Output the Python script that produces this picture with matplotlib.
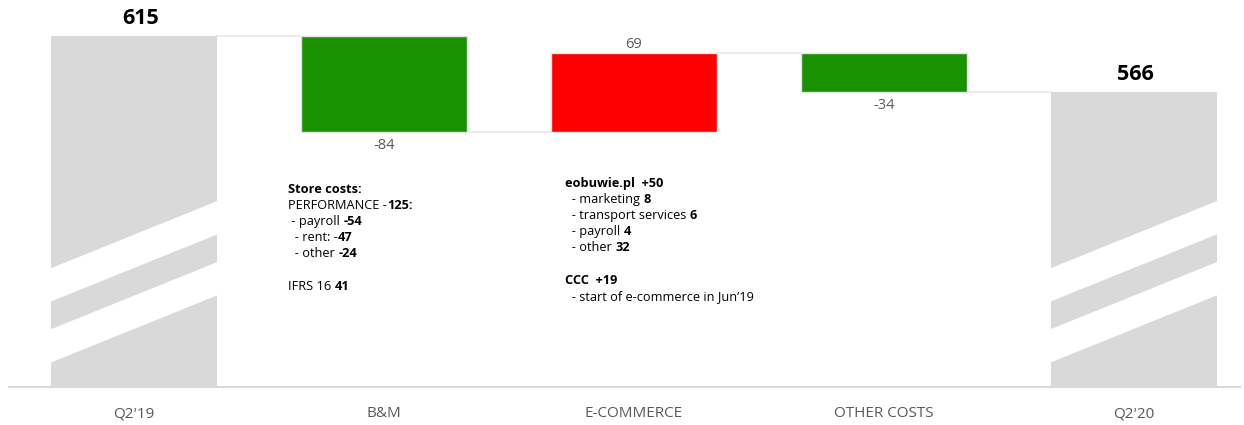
import matplotlib
matplotlib.use("Agg")
import matplotlib.pyplot as plt
from matplotlib.patches import Polygon
from matplotlib.transforms import blended_transform_factory

plt.rcParams["font.family"] = ["Open Sans", "DejaVu Sans"]

# --- data ---
categories = ["Q2'19", "B&M", "E-COMMERCE", "OTHER COSTS", "Q2'20"]
start_total = 615
changes = [-84, 69, -34]
end_total = 566

# note lines: (text, weight, gap before segment in points)
store_notes = [
    [("Store costs:", "bold", 0)],
    [("PERFORMANCE -", "normal", 0), ("125:", "bold", 0)],
    [(" - payroll", "normal", 0), ("-54", "bold", 2.6)],
    [("  - rent: -", "normal", 0), ("47", "bold", 0)],
    [("  - other", "normal", 0), ("-24", "bold", 2.6)],
    [],
    [("IFRS 16", "normal", 0), ("41", "bold", 2.6)],
]
ecom_notes = [
    [("eobuwie.pl  +50", "bold", 0)],
    [("  - marketing", "normal", 0), ("8", "bold", 2.6)],
    [("  - transport services", "normal", 0), ("6", "bold", 2.6)],
    [("  - payroll", "normal", 0), ("4", "bold", 2.6)],
    [("  - other", "normal", 0), ("32", "bold", 2.6)],
    [],
    [("CCC  +19", "bold", 0)],
    [("  - start of e-commerce in Jun\u201919", "normal", 0)],
]

# --- colours ---
GREY_BAR = "#d9d9d9"
DOWN = "#1a9100"
UP = "#ff0000"
LABEL = "#595959"
CONNECT = "#ebebeb"

W, H = 1244, 425
fig = plt.figure(figsize=(W / 100, H / 100), dpi=100)
ax = fig.add_axes([9 / W, 1 - 387 / H, 1231 / W, 387 / H])

x = list(range(len(categories)))
width = 0.665

# running levels of the waterfall
levels = [start_total]
for c in changes:
    levels.append(levels[-1] + c)

# total bars (start from zero, cut by the y-limit)
ax.bar(x[0], start_total, width=width, color=GREY_BAR, edgecolor="none")
ax.bar(x[-1], end_total, width=width, color=GREY_BAR, edgecolor="none")

# change bars
for i, c in enumerate(changes):
    lo = min(levels[i], levels[i + 1])
    ax.bar(x[i + 1], abs(c), bottom=lo, width=width,
           color=DOWN if c < 0 else UP, edgecolor="#e4e4e4", linewidth=1)

# connector lines between bars
for i in range(len(categories) - 1):
    ax.plot([x[i] + width / 2, x[i + 1] - width / 2], [levels[i], levels[i]],
            color=CONNECT, lw=1.3, zorder=0)

# axis-break bands on the total bars
trans = blended_transform_factory(ax.transData, ax.transAxes)
for xi in (x[0], x[-1]):
    xl, xr = xi - width / 2 - 0.005, xi + width / 2 + 0.005
    for lower in (0.2196, 0.062):
        band = Polygon([(xl, lower), (xr, lower + 0.176),
                        (xr, lower + 0.176 + 0.086), (xl, lower + 0.086)],
                       closed=True, facecolor="white", edgecolor="none",
                       transform=trans, zorder=3)
        ax.add_patch(band)

# value labels
ax.annotate(str(start_total), (x[0], start_total), xytext=(5, 12.5),
            textcoords="offset points", ha="center", va="center",
            fontsize=15.5, fontweight="bold", color="black")
ax.annotate(str(end_total), (x[-1], end_total), xytext=(1, 12.5),
            textcoords="offset points", ha="center", va="center",
            fontsize=15.5, fontweight="bold", color="black")
for i, c in enumerate(changes):
    if c < 0:
        y, dy = min(levels[i], levels[i + 1]), -10
    else:
        y, dy = max(levels[i], levels[i + 1]), 6.5
    ax.annotate(f"{c}", (x[i + 1], y), xytext=(0, dy),
                textcoords="offset points", ha="center", va="center",
                fontsize=10.5, color=LABEL)

ax.set_xlim(-0.5005, -0.5005 + 1231 / 249.9)
ax.set_ylim(307.9, 646.5)
ax.set_xticks(x)
ax.set_xticklabels(categories, fontsize=11, color=LABEL)
ax.tick_params(axis="x", length=0, pad=14)
ax.set_yticks([])
for side in ("top", "left", "right"):
    ax.spines[side].set_visible(False)
ax.spines["bottom"].set_color("#d9d9d9")
ax.spines["bottom"].set_linewidth(1.5)


def rich_block(px, py, lines, step=16.1, size=9.2):
    """Write lines of mixed regular/bold text starting at (px, py) pixels."""
    for n, segs in enumerate(lines):
        if not segs:
            continue
        yy = 1 - (py + n * step) / H
        last = None
        for s, wt, gap in segs:
            if last is None:
                last = fig.text(px / W, yy, s, fontsize=size, fontweight=wt,
                                ha="left", va="center", color="black")
            else:
                last = ax.annotate(s, xy=(1, 0), xycoords=last,
                                   xytext=(gap, 0), textcoords="offset points",
                                   ha="left", va="bottom", fontsize=size,
                                   fontweight=wt, color="black",
                                   annotation_clip=False)


rich_block(288, 189.5, store_notes)
rich_block(565, 183.5, ecom_notes)

fig.savefig("out.png", dpi=100)
